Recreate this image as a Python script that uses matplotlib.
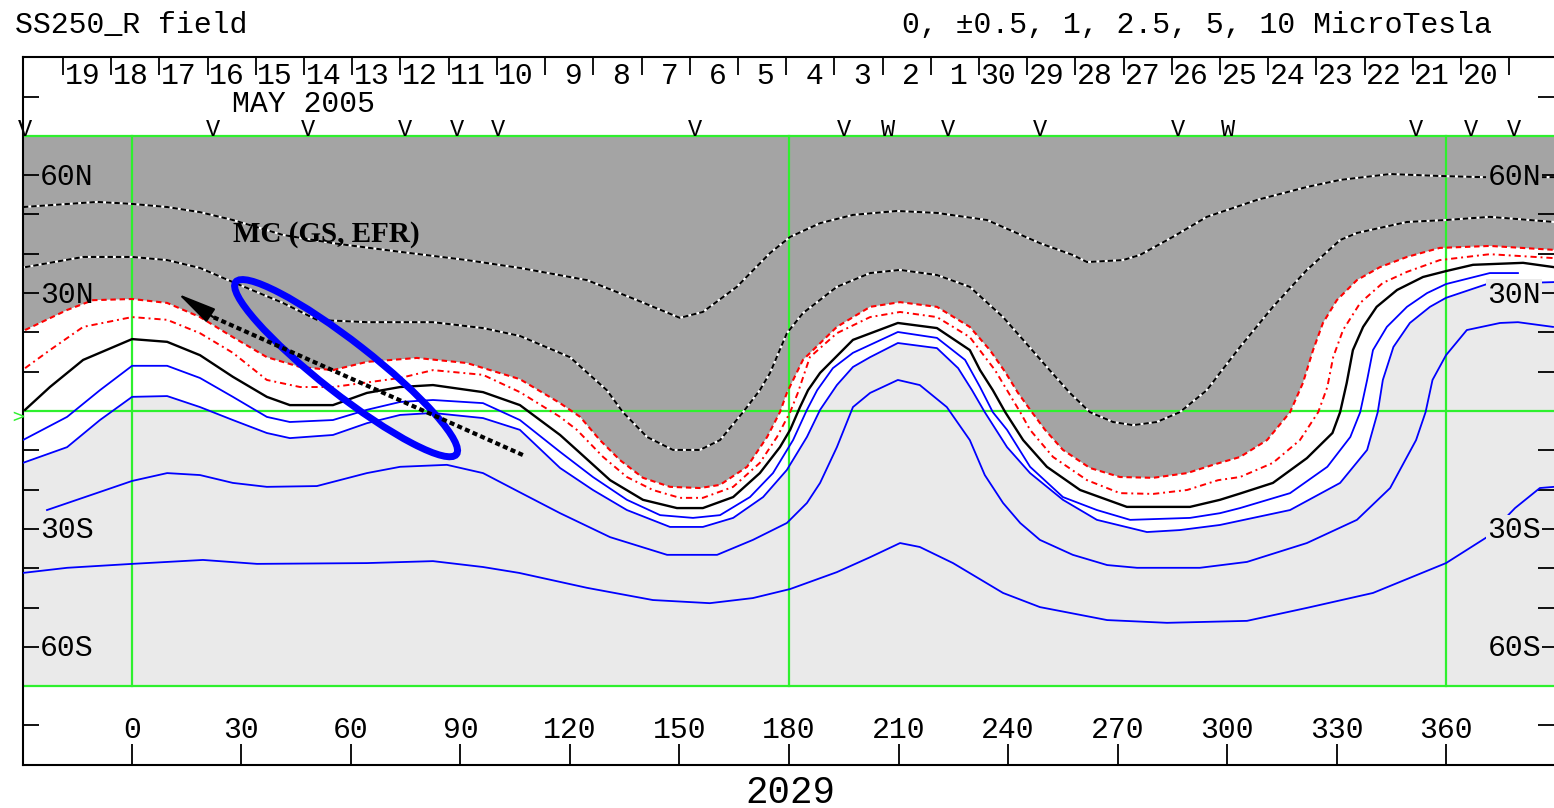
import matplotlib
matplotlib.use("Agg")
import matplotlib.pyplot as plt
from matplotlib.patches import Ellipse
from matplotlib.transforms import ScaledTranslation

# SS250_R source surface field, CR 2029 -- contour traces as (Carrington lon, lat)
# dotted negative contours in the gray hemisphere
neg_hi_lon = [-29.8, -9.5, 0.1, 9.7, 18.7, 27.7, 41.4, 55.1, 73.5, 91.8, 106.3, 124.7, 138.4, 150.1, 156.4,
              165.7, 174.8, 180.3, 188.5, 197.5, 209.6, 220.5, 234.2, 248.7, 257.7, 261.6, 271.4, 276.1,
              285.1, 294.4, 308.1, 321.8, 330.9, 344.6, 358.2, 370.0, 389.5]
neg_hi_lat = [51.9, 53.2, 52.7, 51.9, 50.6, 48.6, 44.8, 42.7, 40.5, 38.4, 36.4, 33.3, 28.2, 23.7, 25.2,
              31.6, 40.2, 44.3, 47.8, 49.9, 50.9, 50.4, 48.6, 42.7, 39.7, 37.9, 38.4, 39.7,
              44.3, 49.4, 53.7, 57.0, 58.8, 60.3, 59.8, 59.5, 59.5]
neg_lo_lon = [-29.2, -13.3, 0.1, 9.7, 18.7, 27.7, 41.4, 50.7, 64.4, 82.5, 96.2, 106.3, 120.0, 130.1, 134.5,
              141.1, 148.2, 155.6, 161.1, 167.4, 172.0, 174.8, 179.4, 183.8, 193.1, 202.2, 210.4, 220.5,
              229.5, 238.6, 244.1, 250.6, 256.9, 262.4, 268.7, 274.2, 280.7, 287.0, 294.4, 298.0, 303.5,
              312.5, 321.8, 330.9, 335.5, 349.2, 359.9, 371.9, 389.5]
neg_lo_lat = [36.6, 39.2, 39.2, 38.4, 36.4, 32.8, 27.5, 23.2, 22.6, 22.6, 21.1, 19.1, 13.7, 5.3, -0.3,
              -6.6, -9.9, -9.9, -7.4, -0.3, 5.3, 9.7, 19.8, 24.9, 31.6, 35.1, 35.9, 34.6,
              31.6, 23.9, 18.1, 11.2, 4.6, -0.3, -2.8, -3.6, -2.8, -0.3, 5.3, 9.7, 16.3,
              26.5, 35.9, 43.5, 45.3, 48.1, 48.6, 49.4, 48.1]
# red dashed contour on the edge of the gray region
edge_lon = [-29.2, -17.7, -10.6, 0.1, 9.7, 18.7, 27.7, 37.0, 46.1, 55.1, 64.4, 78.1, 91.8, 106.3, 117.3,
            122.8, 128.2, 133.7, 140.0, 147.4, 155.6, 161.1, 168.5, 174.0, 177.5, 179.4, 183.8, 193.1,
            202.2, 210.4, 220.5, 229.5, 235.0, 239.2, 242.7, 246.5, 250.1, 255.0, 262.4, 270.6, 279.7,
            289.0, 296.1, 303.5, 310.9, 317.2, 320.7, 323.5, 326.2, 330.0, 335.5, 341.8, 349.2, 358.2,
            371.9, 389.5]
edge_lat = [20.6, 25.7, 28.2, 28.5, 27.5, 23.9, 18.8, 13.7, 11.2, 10.4, 12.5, 13.5, 12.2, 8.1, 2.0,
            -1.5, -7.4, -12.5, -17.0, -19.3, -19.6, -18.8, -14.2, -6.6, -0.3, 4.6, 13.0, 21.4,
            26.5, 27.7, 26.5, 21.4, 15.5, 9.9, 4.6, -0.3, -4.8, -9.9, -14.5, -16.8, -17.0,
            -15.8, -13.7, -11.7, -7.4, -0.3, 7.1, 15.5, 22.4, 28.2, 33.3, 36.6, 39.2, 41.5,
            42.0, 41.0]
# red dash-dot contour
red_lon = [-29.2, -22.4, -13.3, 0.1, 9.7, 18.7, 27.7, 37.0, 46.1, 55.1, 73.5, 82.5, 96.2, 106.3, 117.3,
           121.9, 129.1, 135.6, 142.7, 150.1, 156.4, 164.7, 172.0, 176.7, 180.3, 182.4, 185.7, 193.1,
           202.2, 210.4, 220.5, 229.5, 236.4, 243.3, 246.0, 252.3, 261.6, 270.6, 279.7, 289.0, 297.5,
           303.5, 312.5, 319.9, 324.9, 327.4, 329.0, 331.7, 336.4, 342.6, 349.2, 358.2, 371.9, 389.5]
red_lat = [10.9, 15.5, 21.4, 23.9, 23.2, 19.8, 14.8, 7.9, 6.1, 6.1, 8.4, 10.4, 9.2, 4.8, -1.5,
           -4.8, -11.7, -16.8, -20.1, -22.1, -22.1, -19.3, -13.2, -6.6, -0.3, 4.6, 13.7, 19.8,
           23.9, 25.2, 23.9, 18.8, 10.4, -0.3, -4.8, -11.7, -17.6, -20.9, -21.1, -20.1, -17.6,
           -16.8, -13.2, -7.4, -0.3, 6.1, 13.7, 20.6, 27.5, 32.6, 35.4, 38.4, 39.9, 38.9]
# neutral line
zero_lon = [-29.2, -22.4, -13.3, 0.1, 9.7, 18.7, 27.7, 37.0, 43.3, 55.1, 64.4, 73.5, 82.5, 96.2, 106.3,
            117.3, 122.8, 131.0, 140.0, 149.3, 156.4, 164.7, 172.0, 177.5, 180.3, 183.0, 185.2, 188.5,
            197.5, 209.8, 220.5, 229.5, 232.3, 235.8, 239.2, 244.1, 250.6, 259.7, 272.5, 289.8, 298.0,
            303.5, 312.5, 321.8, 328.8, 330.9, 332.7, 334.4, 337.2, 340.9, 346.5, 353.6, 359.9, 367.3,
            381.0, 389.5]
zero_lat = [0.3, 6.1, 13.0, 18.3, 17.6, 14.2, 8.7, 3.6, 1.5, 1.5, 4.6, 6.1, 6.6, 4.8, 1.5,
            -6.1, -10.7, -17.6, -22.6, -24.7, -24.7, -21.9, -15.8, -9.2, -4.8, 1.0, 5.3, 9.7,
            18.1, 22.4, 21.1, 15.5, 10.4, 5.3, -0.3, -7.4, -14.2, -20.1, -24.4, -24.4, -22.6,
            -21.0, -18.3, -12.0, -5.6, -0.3, 7.1, 15.5, 21.4, 26.5, 30.8, 34.1, 35.6, 37.2,
            37.7, 36.6]
# positive (blue) contours
pos1_lon = [-29.8, -17.7, -8.7, 0.1, 9.7, 18.7, 27.7, 37.0, 43.3, 55.1, 64.4, 73.5, 82.5, 96.2, 106.3,
            117.3, 126.3, 135.6, 144.7, 153.7, 161.1, 169.3, 175.6, 181.1, 184.9, 187.7, 192.0, 197.5,
            209.8, 220.5, 228.2, 232.3, 235.8, 239.7, 246.0, 255.0, 264.3, 273.4, 289.8, 298.0, 303.5,
            317.2, 327.4, 333.7, 336.4, 338.3, 339.9, 343.7, 349.2, 354.7, 359.9, 371.9, 379.6]
pos1_lat = [-7.4, -1.5, 5.3, 11.5, 11.5, 8.4, 3.6, -1.5, -2.8, -2.3, 0.3, 2.3, 2.8, 2.0, -2.3,
            -10.4, -16.8, -22.6, -26.5, -27.2, -26.5, -21.9, -15.8, -7.4, 0.3, 5.3, 10.9, 14.8,
            20.1, 18.6, 13.0, 6.1, -0.3, -4.8, -14.2, -21.9, -25.2, -27.7, -27.2, -26.0, -24.7,
            -20.9, -14.2, -6.6, -0.3, 7.9, 15.5, 21.4, 26.5, 30.0, 32.3, 35.1, 35.1]
pos2_lon = [-29.8, -17.7, -8.7, 0.1, 9.7, 18.7, 27.7, 37.0, 43.3, 55.1, 64.4, 73.5, 82.5, 96.2, 106.3,
            117.3, 126.3, 135.6, 147.4, 156.4, 164.7, 172.9, 179.4, 184.9, 188.5, 193.1, 197.5, 202.2,
            209.8, 220.5, 226.3, 230.1, 233.6, 239.7, 246.0, 255.0, 264.3, 278.0, 287.0, 298.0, 317.2,
            330.9, 338.3, 341.2, 342.6, 345.5, 350.0, 355.5, 359.9, 371.1, 389.5]
pos2_lat = [-13.2, -9.2, -2.3, 3.6, 3.8, 1.0, -2.3, -5.6, -6.9, -6.1, -3.1, -1.0, -0.5, -1.8, -4.8,
            -14.5, -20.1, -25.2, -29.5, -29.5, -27.2, -21.9, -15.0, -6.6, 0.3, 6.6, 11.2, 13.7,
            17.3, 16.0, 10.9, 5.3, -0.3, -9.2, -15.8, -22.6, -27.7, -30.8, -30.3, -29.0, -25.2,
            -18.3, -9.9, -0.3, 7.9, 16.3, 22.4, 26.5, 28.8, 32.3, 32.8]
pos3_lon = [-23.2, -8.7, 0.1, 9.7, 18.7, 27.7, 37.0, 50.7, 64.4, 73.5, 86.3, 96.2, 106.1, 117.3, 131.0,
            146.6, 160.3, 170.1, 179.4, 184.9, 188.5, 193.1, 197.5, 202.2, 209.8, 215.8, 223.2, 229.5,
            233.6, 238.6, 243.3, 248.7, 257.7, 267.1, 275.3, 292.5, 305.4, 321.8, 335.5, 344.6, 351.7,
            354.3, 356.2, 359.9, 365.6, 374.7, 379.6, 389.2]
pos3_lat = [-25.2, -20.6, -17.8, -15.8, -16.3, -18.3, -19.3, -19.1, -15.8, -14.2, -13.7, -15.8, -20.6,
            -26.0, -32.1, -36.6, -36.6, -32.8, -28.5, -23.4, -18.3, -9.2, 1.0, 4.6, 7.9, 6.6, 1.0,
            -7.4, -16.3, -23.4, -28.5, -32.8, -36.6, -39.2, -39.9, -39.9, -38.4, -33.6, -27.7, -19.6,
            -7.4, -0.3, 7.9, 14.2, 20.6, 22.4, 22.6, 21.4]
pos4_lon = [-29.8, -17.7, 0.1, 19.5, 34.3, 64.4, 82.5, 96.2, 106.1, 124.7, 142.7, 158.3, 170.1, 180.3,
            193.1, 202.2, 210.4, 215.8, 224.9, 238.6, 248.7, 267.1, 283.5, 305.4, 321.8, 339.9, 359.9,
            371.1, 378.8, 385.6, 389.5]
pos4_lat = [-41.2, -39.9, -38.9, -37.9, -38.9, -38.7, -38.2, -39.7, -41.2, -45.0, -48.1, -48.9, -47.6,
            -45.3, -41.0, -37.2, -33.6, -34.6, -38.7, -46.3, -49.9, -53.2, -53.9, -53.4, -50.1, -46.3,
            -38.7, -32.1, -24.7, -19.6, -19.3]

# top scale: days of May 2005 and observation marks
day_labels = list(range(19, 0, -1)) + list(range(30, 19, -1))
day_start = -18.8          # lon of first day tick
day_width = 13.2           # one Carrington day in degrees
obs_lon = [-29.2, 22.3, 48.3, 74.9, 89.1, 100.3, 154.3, 194.9, 207.2, 223.4, 248.8, 286.4, 300.3,
           351.6, 366.7, 378.4]
obs_mark = ["V", "V", "V", "V", "V", "V", "V", "V", "W", "V", "V", "V", "W", "V", "V", "V"]

lon_ticks = list(range(0, 361, 30))
lat_ticks = [v for v in range(-80, 81, 10) if v != 0]
lat_labels = {60: "60N", 30: "30N", -30: "30S", -60: "60S"}

# annotation: magnetic cloud
mc_center = (58.7, 10.9)
arrow_tail = (107.1, -11.2)
arrow_base = (22.3, 23.9)
arrow_tip = (12.7, 29.8)

W, H, DPI = 1554, 808, 100
MONO = "Liberation Mono"
FS = 21.5
DARK, LIGHT, GREEN, BLUE, RED = "#a4a4a4", "#eaeaea", "#2ef02e", "#0000ff", "#ff0000"

fig = plt.figure(figsize=(W / DPI, H / DPI), dpi=DPI)
ax = fig.add_axes([23 / W, 43.3 / H, (W - 23) / W, 707.4 / H])
ax.set_xlim(-29.77, 389.47)
ax.set_ylim(-90, 90)
x0, x1 = ax.get_xlim()

# polarity shading
ax.fill([x0] + edge_lon + [x1, x1, x0], [edge_lat[0]] + edge_lat + [edge_lat[-1], 70, 70],
        color=DARK, lw=0, zorder=1)
ax.fill([x0] + pos2_lon + [x1, x1, x0], [pos2_lat[0]] + pos2_lat + [pos2_lat[-1], -70, -70],
        color=LIGHT, lw=0, zorder=1)

# green frame / grid
for lon in (0, 180, 360):
    ax.plot([lon, lon], [-70, 70], color=GREEN, lw=1.6, zorder=2)
for lat in (70, 0, -70):
    ax.axhline(lat, color=GREEN, lw=1.6, zorder=2)

# contours
for lo, la in ((neg_hi_lon, neg_hi_lat), (neg_lo_lon, neg_lo_lat)):
    ax.plot(lo, la, color="white", lw=1.5, zorder=3)
    ax.plot(lo, la, color="black", lw=1.5, dashes=(2.6, 1.4), zorder=3)
ax.plot(edge_lon, edge_lat, color=RED, lw=1.5, dashes=(2.6, 1.8), zorder=3)
ax.plot(red_lon, red_lat, color=RED, lw=1.4, dashes=(3.2, 2.0, 1, 2.0), zorder=3)
ax.plot(zero_lon, zero_lat, color="black", lw=1.7, zorder=3)
for lo, la in ((pos1_lon, pos1_lat), (pos2_lon, pos2_lat), (pos3_lon, pos3_lat), (pos4_lon, pos4_lat)):
    ax.plot(lo, la, color=BLUE, lw=1.3, zorder=3)

# axes frame and ticks
ax.spines["right"].set_visible(False)
for s in ("left", "top", "bottom"):
    ax.spines[s].set_linewidth(1.5)
ax.set_xticks(lon_ticks)
ax.set_yticks(lat_ticks)
ax.tick_params(axis="x", direction="in", length=15, width=1.3, labelbottom=False, top=False)
ax.tick_params(axis="y", direction="in", length=11.5, width=1.3, left=True, right=True,
               labelleft=False, labelright=False)

for lon in lon_ticks:
    ax.text(lon, -83.2, str(lon), ha="center", va="baseline", family=MONO, fontsize=FS)

for lat, s in lat_labels.items():
    ax.text(-25.1, lat - 2.4, s, ha="left", va="baseline", family=MONO, fontsize=FS, zorder=6)
    ax.text(385.9, lat - 2.4, s, ha="right", va="baseline", family=MONO, fontsize=FS, zorder=6,
            bbox=dict(boxstyle="square,pad=0.05", fc=DARK if lat == 60 else LIGHT, ec="none"))

ax.text(-31.2, -1.5, ">", color=GREEN, fontsize=12, ha="center", va="center", clip_on=False)

# day scale at top
day_lon = [day_start + day_width * k for k in range(len(day_labels) + 1)]
ax.vlines(day_lon, 85.4, 90, color="black", lw=1.3)
for k, d in enumerate(day_labels):
    ax.text(day_lon[k] + 0.4, 83.3, f"{d:2d}", ha="left", va="baseline", family=MONO, fontsize=FS)
ax.text(47.0, 76.1, "MAY 2005", ha="center", va="baseline", family=MONO, fontsize=FS)

for lon, m in zip(obs_lon, obs_mark):
    ax.text(lon, 70.0, m, ha="center", va="baseline", family=MONO, fontsize=17)

# magnetic cloud annotation
trans = fig.dpi_scale_trans + ScaledTranslation(mc_center[0], mc_center[1], ax.transData)
ax.add_patch(Ellipse((0, 0), 2.80, 0.52, angle=-38, transform=trans, fill=False,
                     ec=BLUE, lw=5, zorder=5))
ax.plot([arrow_tail[0], arrow_base[0]], [arrow_tail[1], arrow_base[1]], color="black", lw=3,
        dashes=(1.2, 0.8), zorder=5)
ax.annotate("", xy=arrow_tip, xytext=arrow_base,
            arrowprops=dict(arrowstyle="-|>,head_length=1.2,head_width=0.25", color="black",
                            lw=1.5, mutation_scale=20, shrinkA=0, shrinkB=0), zorder=5)
ax.text(53.2, 43.0, "MC (GS, EFR)", ha="center", va="baseline", family="Liberation Serif",
        fontweight="bold", fontsize=21, zorder=6)

fig.text(15 / W, 1 - 33 / H, "SS250_R field", ha="left", va="baseline", family=MONO, fontsize=FS)
fig.text(1492 / W, 1 - 33 / H, "0, \u00b10.5, 1, 2.5, 5, 10 MicroTesla", ha="right", va="baseline",
         family=MONO, fontsize=FS)
fig.text(790 / W, 5 / H, "2029", ha="center", va="baseline", family=MONO, fontsize=27)

fig.savefig("out.png", dpi=DPI)
